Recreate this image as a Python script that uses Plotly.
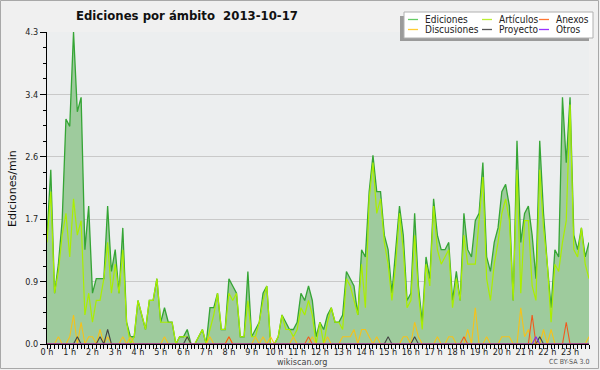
import plotly.graph_objects as go

# ---- data (10-minute slots, edits per minute) ----
slot_minutes = list(range(0, 1440, 10))
hour_tick_vals = list(range(24))
hour_labels = ["0 h", "1 h", "2 h", "3 h", "4 h", "5 h", "6 h", "7 h", "8 h", "9 h", "10 h", "11 h",
               "12 h", "13 h", "14 h", "15 h", "16 h", "17 h", "18 h", "19 h", "20 h", "21 h", "22 h", "23 h"]

ediciones = [
    1.5, 2.4, 0.7, 1.1, 1.7, 3.1, 3.0, 4.3, 3.2, 3.4, 1.3, 1.9,
    0.7, 0.9, 0.9, 0.9, 1.9, 1.0, 1.3, 0.7, 1.6, 0.3, 0.1, 0.1,
    0.6, 0.4, 0.2, 0.6, 0.6, 0.9, 0.3, 0.5, 0.3, 0.3, 0.0, 0.1,
    0.1, 0.2, 0.0, 0.0, 0.1, 0.2, 0.0, 0.5, 0.5, 0.7, 0.2, 0.2,
    0.9, 0.8, 0.7, 0.1, 0.1, 1.0, 0.1, 0.2, 0.3, 0.7, 0.8, 0.0,
    0.0, 0.1, 0.4, 0.3, 0.2, 0.2, 0.3, 0.7, 0.6, 0.8, 0.6, 0.1,
    0.3, 0.2, 0.4, 0.5, 0.3, 0.3, 0.4, 1.0, 0.9, 0.8, 0.4, 1.3,
    1.2, 2.1, 2.6, 2.1, 2.1, 1.5, 1.3, 0.7, 1.3, 1.9, 1.5, 0.6,
    0.7, 1.8, 0.8, 0.3, 1.2, 0.9, 2.0, 1.5, 1.3, 1.3, 1.4, 0.6,
    1.0, 0.6, 1.8, 1.3, 1.2, 1.7, 1.8, 2.5, 1.2, 1.0, 1.4, 1.6,
    2.1, 2.2, 1.9, 0.6, 2.8, 1.4, 1.8, 1.9, 1.5, 0.9, 2.8, 1.8,
    1.1, 0.5, 1.3, 1.2, 3.4, 2.5, 3.4, 1.5, 1.3, 1.6, 1.2, 1.4,
]
articulos = [
    1.4, 2.1, 0.7, 1.0, 1.5, 1.8, 1.2, 2.0, 1.5, 1.7, 0.4, 0.7,
    0.3, 0.6, 0.6, 0.9, 1.4, 0.7, 1.1, 0.7, 1.3, 0.3, 0.0, 0.1,
    0.6, 0.4, 0.2, 0.6, 0.6, 0.9, 0.3, 0.3, 0.3, 0.3, 0.0, 0.1,
    0.1, 0.1, 0.0, 0.0, 0.1, 0.2, 0.0, 0.2, 0.4, 0.7, 0.2, 0.2,
    0.7, 0.6, 0.7, 0.1, 0.1, 0.6, 0.1, 0.1, 0.3, 0.6, 0.8, 0.0,
    0.0, 0.1, 0.4, 0.2, 0.2, 0.1, 0.2, 0.5, 0.4, 0.6, 0.4, 0.0,
    0.3, 0.0, 0.3, 0.5, 0.3, 0.3, 0.2, 0.9, 0.8, 0.6, 0.4, 1.1,
    0.5, 2.0, 2.5, 1.8, 2.0, 1.4, 1.1, 0.6, 1.1, 1.8, 1.3, 0.5,
    0.6, 1.5, 0.7, 0.2, 1.1, 0.8, 1.9, 1.3, 1.1, 1.2, 1.3, 0.5,
    0.9, 0.6, 1.5, 1.1, 1.1, 1.1, 1.7, 2.3, 0.9, 0.6, 1.1, 1.4,
    1.8, 2.0, 1.7, 0.6, 2.4, 0.7, 1.7, 1.7, 0.8, 0.6, 2.4, 1.6,
    1.1, 0.3, 1.1, 1.0, 1.4, 1.7, 3.3, 1.3, 1.2, 1.6, 1.1, 0.9,
]
discusiones = [
    0.0, 0.0, 0.0, 0.1, 0.0, 0.0, 0.1, 0.4, 0.0, 0.3, 0.0, 0.1,
    0.1, 0.0, 0.2, 0.0, 0.1, 0.0, 0.0, 0.0, 0.1, 0.0, 0.1, 0.0,
    0.0, 0.0, 0.0, 0.0, 0.0, 0.0, 0.0, 0.1, 0.0, 0.0, 0.0, 0.0,
    0.0, 0.0, 0.0, 0.0, 0.0, 0.0, 0.0, 0.1, 0.0, 0.0, 0.0, 0.0,
    0.1, 0.0, 0.0, 0.0, 0.0, 0.0, 0.0, 0.1, 0.0, 0.1, 0.0, 0.1,
    0.0, 0.0, 0.0, 0.0, 0.0, 0.1, 0.0, 0.0, 0.0, 0.0, 0.1, 0.0,
    0.0, 0.0, 0.1, 0.0, 0.0, 0.0, 0.1, 0.1, 0.1, 0.2, 0.0, 0.2,
    0.2, 0.1, 0.0, 0.1, 0.0, 0.0, 0.0, 0.0, 0.0, 0.0, 0.1, 0.1,
    0.0, 0.3, 0.1, 0.0, 0.0, 0.0, 0.0, 0.1, 0.0, 0.0, 0.1, 0.1,
    0.0, 0.0, 0.0, 0.2, 0.0, 0.5, 0.0, 0.0, 0.1, 0.0, 0.0, 0.0,
    0.1, 0.1, 0.1, 0.0, 0.0, 0.5, 0.1, 0.2, 0.0, 0.0, 0.0, 0.2,
    0.0, 0.2, 0.0, 0.0, 0.0, 0.0, 0.0, 0.0, 0.0, 0.0, 0.0, 0.1,
]
proyecto = [0.0] * 144
for idx, val in [(8, 0.1), (14, 0.1), (16, 0.2), (37, 0.1), (90, 0.1), (97, 0.1), (130, 0.1)]:
    proyecto[idx] = val
anexos = [0.0] * 144
for idx, val in [(48, 0.1), (69, 0.1), (110, 0.1), (128, 0.4), (137, 0.3)]:
    anexos[idx] = val
otros = [0.0] * 144
for idx, val in [(129, 0.1)]:
    otros[idx] = val

series_names = ["Ediciones", "Artículos", "Anexos", "Discusiones", "Proyecto", "Otros"]
series_colors = ["#66cc66", "#bbee33", "#ff7733", "#ffcc33", "#555555", "#9933ff"]

# ---- layout geometry (pixels) ----
W, H = 600, 370
ML, MR, MT, MB = 47, 11, 32, 26
PW, PH = W - ML - MR, H - MT - MB


def px(x):
    return (x - ML) / PW


def py(y):
    return (H - MB - y) / PH


x_hours = [m / 60 for m in slot_minutes]

FONT = "DejaVu Sans Condensed, Liberation Sans Narrow, DejaVu Sans, sans-serif"

fig = go.Figure()
fig.add_trace(go.Scatter(x=x_hours, y=ediciones, mode="lines", fill="tozeroy",
                         fillcolor="#9ecb9d", line=dict(color="#35a535", width=1.3),
                         showlegend=False, hoverinfo="skip"))
fig.add_trace(go.Scatter(x=x_hours, y=articulos, mode="lines",
                         line=dict(color="#aaee00", width=1.2), showlegend=False))
fig.add_trace(go.Scatter(x=x_hours, y=discusiones, mode="lines",
                         line=dict(color="#f5c21b", width=1.1), showlegend=False))
fig.add_trace(go.Scatter(x=x_hours, y=proyecto, mode="lines",
                         line=dict(color="#444444", width=1.1), showlegend=False))
fig.add_trace(go.Scatter(x=x_hours, y=anexos, mode="lines",
                         line=dict(color="#f05a1e", width=1.1), showlegend=False))
fig.add_trace(go.Scatter(x=x_hours, y=otros, mode="lines",
                         line=dict(color="#8a2be2", width=1.1), showlegend=False))

shapes = []
annotations = []

# outer border
shapes.append(dict(type="rect", xref="paper", yref="paper",
                   x0=px(0.5), x1=px(598.5), y0=py(0.5), y1=py(368.5),
                   line=dict(color="#a8a8a8", width=1), fillcolor="rgba(0,0,0,0)", layer="below"))

# legend (shadow + box + entries)
shapes.append(dict(type="rect", xref="paper", yref="paper",
                   x0=px(400), x1=px(589), y0=py(41), y1=py(16),
                   line=dict(width=0), fillcolor="#9a9a9a"))
shapes.append(dict(type="rect", xref="paper", yref="paper",
                   x0=px(404), x1=px(593), y0=py(38), y1=py(12),
                   line=dict(color="#b0b0b0", width=1), fillcolor="#ffffff"))
col_x = [408, 482, 539]
row_y = [19.5, 29.5]
for k, (name, color) in enumerate(zip(series_names, series_colors)):
    cx = col_x[k % 3]
    ry = row_y[k // 3]
    shapes.append(dict(type="line", xref="paper", yref="paper",
                       x0=px(cx), x1=px(cx + 10), y0=py(ry), y1=py(ry),
                       line=dict(color=color, width=1.3)))
    annotations.append(dict(text=name, xref="paper", yref="paper", x=px(cx + 15), y=py(ry),
                            xanchor="left", yanchor="middle", showarrow=False,
                            font=dict(family=FONT, size=10, color="#222222")))

# title
annotations.append(dict(text="<b>Ediciones por ámbito  2013-10-17</b>", xref="paper", yref="paper",
                        x=px(187), y=py(16), xanchor="center", yanchor="middle", showarrow=False,
                        font=dict(family=FONT, size=13, color="#111111")))
# y title
annotations.append(dict(text="Ediciones/min", xref="paper", yref="paper", x=px(12), y=py(189),
                        xanchor="center", yanchor="middle", textangle=-90, showarrow=False,
                        font=dict(family="DejaVu Sans, sans-serif", size=11, color="#111111")))
# footer
annotations.append(dict(text="wikiscan.org", xref="paper", yref="paper", x=px(302), y=py(362),
                        xanchor="center", yanchor="middle", showarrow=False,
                        font=dict(family=FONT, size=9, color="#444444")))
annotations.append(dict(text="CC BY-SA 3.0", xref="paper", yref="paper", x=px(591), y=py(362),
                        xanchor="right", yanchor="middle", showarrow=False,
                        font=dict(family=FONT, size=7, color="#555555")))

fig.update_layout(
    width=W, height=H,
    margin=dict(l=ML, r=MR, t=MT, b=MB, pad=0, autoexpand=False),
    paper_bgcolor="#f0f0f0", plot_bgcolor="#eceeef",
    showlegend=False,
    shapes=shapes, annotations=annotations,
    font=dict(family=FONT, size=10, color="#222222"),
)
fig.update_xaxes(
    range=[0, 143 / 60 * 10], tickmode="array", tickvals=hour_tick_vals, ticktext=hour_labels,
    tickangle=0, automargin=False, ticklabelstandoff=-5,
    ticks="outside", ticklen=4, tickcolor="#000000", tickwidth=1,
    showline=True, linecolor="#000000", linewidth=1, showgrid=False, zeroline=False,
    tickfont=dict(family=FONT, size=9, color="#222222"),
    minor=dict(dtick=1 / 6, tick0=0, ticks="outside", ticklen=4, tickcolor="#000000", showgrid=False),
)
fig.update_yaxes(
    range=[0, 4.3001], tickmode="linear", tick0=0, dtick=0.86, tickformat=".1f",
    automargin=False,
    ticks="outside", ticklen=6, tickcolor="#000000", tickwidth=1,
    showline=True, linecolor="#000000", linewidth=1,
    showgrid=True, gridcolor="#c9c9c9", gridwidth=1, zeroline=False,
    tickfont=dict(family=FONT, size=9, color="#222222"),
    minor=dict(dtick=0.215, tick0=0, ticks="outside", ticklen=3, tickcolor="#000000", showgrid=False),
)

fig.write_html("out.html", config={"displayModeBar": False},
               post_script="document.body.style.margin='0px';")
